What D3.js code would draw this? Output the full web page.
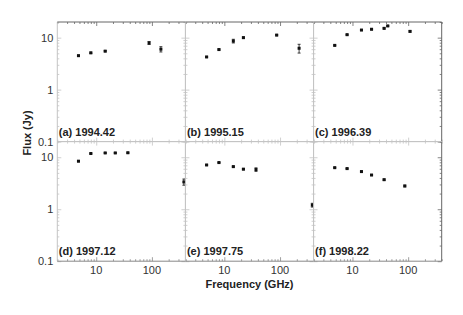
<!DOCTYPE html>
<html>
<head>
<meta charset="utf-8">
<script src="https://cdn.jsdelivr.net/npm/d3@7"></script>
<style>
  body { margin: 0; background: #fff; }
  svg { font-family: "Liberation Sans", Arial, Helvetica, sans-serif; }
</style>
</head>
<body>
<svg id="chart" width="463" height="315"></svg>
<script>
// panel labels (epochs)
const panelLabels = ['(a) 1994.42', '(b) 1995.15', '(c) 1996.39', '(d) 1997.12', '(e) 1997.75', '(f) 1998.22']

// frequency (GHz), flux (Jy), error (Jy) for each epoch
const freqA = [4.8, 8.0, 14.5, 89, 145]
const fluxA = [4.5, 5.1, 5.5, 7.9, 6.0]
const errA = [0.1, 0.15, 0.15, 0.5, 0.7]

const freqB = [4.8, 8.0, 14.5, 22, 87, 220]
const fluxB = [4.25, 5.9, 8.6, 10.0, 11.2, 6.25]
const errB = [0.1, 0.15, 0.7, 0.3, 0.3, 1.2]

const freqC = [4.8, 8.0, 14.5, 22, 37, 43, 108]
const fluxC = [7.1, 11.4, 14.0, 14.5, 15.1, 16.8, 13.2]
const errC = [0.15, 0.25, 0.3, 0.3, 0.4, 0.4, 0.4]

const freqD = [4.8, 8.0, 14.5, 22, 37, 375]
const fluxD = [8.4, 11.8, 12.1, 12.1, 12.2, 3.35]
const errD = [0.2, 0.25, 0.25, 0.25, 0.3, 0.45]

const freqE = [4.8, 8.0, 14.5, 22, 37, 380]
const fluxE = [7.1, 7.9, 6.6, 5.9, 5.8, 1.2]
const errE = [0.15, 0.15, 0.15, 0.15, 0.45, 0.1]

const freqF = [4.8, 8.0, 14.5, 22, 37, 87]
const fluxF = [6.3, 6.05, 5.3, 4.55, 3.7, 2.8]
const errF = [0.12, 0.12, 0.12, 0.1, 0.1, 0.1]

const xMajor = [10, 100]
const yMajor = [0.1, 1, 10]

const seriesList = [
  [freqA, fluxA, errA], [freqB, fluxB, errB], [freqC, fluxC, errC],
  [freqD, fluxD, errD], [freqE, fluxE, errE], [freqF, fluxF, errF]
]

const marginLeft = 57.3
const marginTop = 22
const pw = 128.13
const ph = 119.6

const svg = d3.select('#chart')

const x = d3.scaleLog().domain([2, 400]).range([0, pw])
const y = d3.scaleLog().domain([0.1, 20]).range([ph, 0])

// minor tick values from the scales
const xMinor = x.ticks().filter((v) => !xMajor.includes(v))
const yMinor = y.ticks().filter((v) => !yMajor.includes(v))

function edgeTicks (g, axisFn, scale, major, minor, color) {
  g.append('g').call(axisFn(scale).tickValues(major).tickSize(4).tickFormat(''))
  g.append('g').call(axisFn(scale).tickValues(minor).tickSize(2).tickFormat(''))
  g.selectAll('.domain').remove()
  g.selectAll('line').attr('stroke', color).attr('stroke-width', 0.8)
}

seriesList.forEach((s, i) => {
  const col = i % 3
  const row = Math.floor(i / 3)
  const g = svg.append('g')
    .attr('transform', 'translate(' + (marginLeft + col * pw) + ',' + (marginTop + row * ph) + ')')

  const outerTop = row === 0
  const outerBottom = row === 1
  const outerRight = col === 2
  const light = '#c4c4c4'
  const dark = '#666'

  // ticks pointing into the panel on every side
  edgeTicks(g.append('g').attr('transform', 'translate(0,' + ph + ')'), d3.axisTop, x, xMajor, xMinor, outerBottom ? '#888' : light)
  edgeTicks(g.append('g'), d3.axisBottom, x, xMajor, xMinor, outerTop ? dark : light)
  edgeTicks(g.append('g'), d3.axisRight, y, yMajor, yMinor, light)
  edgeTicks(g.append('g').attr('transform', 'translate(' + pw + ',0)'), d3.axisLeft, y, yMajor, yMinor, outerRight ? dark : light)

  // frame
  g.append('line').attr('x1', 0).attr('x2', 0).attr('y1', 0).attr('y2', ph).attr('stroke', light)
  g.append('line').attr('x1', pw).attr('x2', pw).attr('y1', 0).attr('y2', ph).attr('stroke', outerRight ? dark : light)
  g.append('line').attr('x1', 0).attr('x2', pw).attr('y1', 0).attr('y2', 0).attr('stroke', outerTop ? dark : light)
  g.append('line').attr('x1', 0).attr('x2', pw).attr('y1', ph).attr('y2', ph).attr('stroke', outerBottom ? '#888' : light)

  const pts = s[0].map((f, k) => ({ f: f, v: s[1][k], e: s[2][k] }))

  // error bars
  const eb = g.selectAll('.err').data(pts).join('g').attr('class', 'err')
    .attr('stroke', '#111').attr('stroke-width', 0.8)
  eb.append('line')
    .attr('x1', (d) => x(d.f)).attr('x2', (d) => x(d.f))
    .attr('y1', (d) => y(d.v - d.e)).attr('y2', (d) => y(d.v + d.e))
  eb.append('line')
    .attr('x1', (d) => x(d.f) - 1.5).attr('x2', (d) => x(d.f) + 1.5)
    .attr('y1', (d) => y(d.v - d.e)).attr('y2', (d) => y(d.v - d.e))
  eb.append('line')
    .attr('x1', (d) => x(d.f) - 1.5).attr('x2', (d) => x(d.f) + 1.5)
    .attr('y1', (d) => y(d.v + d.e)).attr('y2', (d) => y(d.v + d.e))

  // points
  g.selectAll('.pt').data(pts).join('rect').attr('class', 'pt')
    .attr('x', (d) => x(d.f) - 1.5)
    .attr('y', (d) => y(d.v) - 1.5)
    .attr('width', 3).attr('height', 3)
    .attr('fill', '#111')

  // panel label
  g.append('text')
    .attr('x', 1.5).attr('y', ph - 6)
    .attr('font-size', 11).attr('font-weight', 'bold').attr('fill', '#222')
    .text(panelLabels[i])

  // y tick labels on the left column
  if (col === 0) {
    g.selectAll('.ylab').data(yMajor).join('text').attr('class', 'ylab')
      .attr('x', -4).attr('y', (d) => y(d) + 4)
      .attr('text-anchor', 'end').attr('font-size', 11).attr('fill', '#333')
      .text((d) => d)
  }
  // x tick labels on the bottom row
  if (row === 1) {
    g.selectAll('.xlab').data(xMajor).join('text').attr('class', 'xlab')
      .attr('x', (d) => x(d)).attr('y', ph + 12.5)
      .attr('text-anchor', 'middle').attr('font-size', 11).attr('fill', '#333')
      .text((d) => d)
  }
})

// axis titles
svg.append('text')
  .attr('transform', 'translate(31,133) rotate(-90)')
  .attr('text-anchor', 'middle').attr('font-size', 11).attr('font-weight', 'bold').attr('fill', '#222')
  .text('Flux (Jy)')

svg.append('text')
  .attr('x', marginLeft + 1.5 * pw).attr('y', 287.5)
  .attr('text-anchor', 'middle').attr('font-size', 11).attr('font-weight', 'bold').attr('fill', '#222')
  .text('Frequency (GHz)')
</script>
</body>
</html>
